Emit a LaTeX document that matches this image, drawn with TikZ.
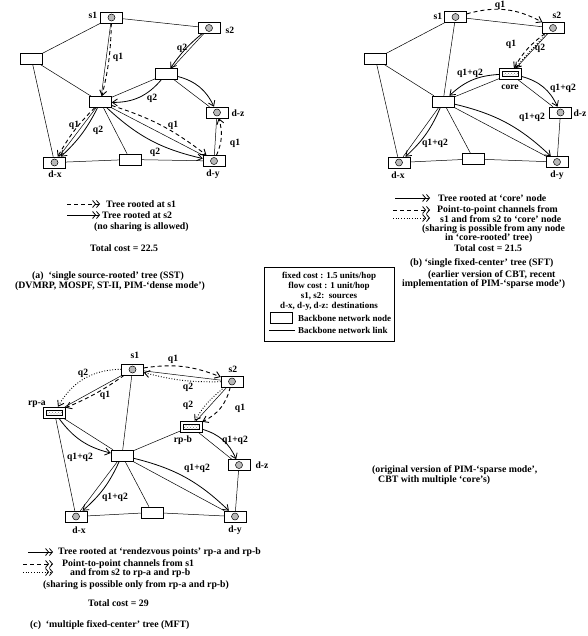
\documentclass[tikz,border=0pt]{standalone}
\usepackage{fontspec}
\setmainfont{Liberation Serif}
\usetikzlibrary{arrows.meta,patterns,calc}
\begin{document}
\begin{tikzpicture}[x=1pt,y=-1pt,
  every node/.style={inner sep=0pt},
  lab/.style={font=\fontsize{9.6}{11}\selectfont\bfseries},
  txt/.style={font=\fontsize{9.8}{11}\selectfont\bfseries, anchor=west},
  ctxt/.style={font=\fontsize{9.8}{11}\selectfont\bfseries},
  ltxt/.style={font=\fontsize{9}{10}\selectfont\bfseries},
  nbox/.style={draw, fill=white, minimum width=22pt, minimum height=11pt, line width=0.5pt},
  lnk/.style={line width=0.5pt},
  tree/.style={line width=0.8pt, -{Straight Barb[length=5pt,width=7pt]}},
  dsh/.style={line width=0.9pt, dash pattern=on 4pt off 3pt, -{Straight Barb[length=5pt,width=7pt]}},
  dot/.style={line width=0.9pt, dash pattern=on 0.9pt off 1.8pt, -{Straight Barb[length=5pt,width=7pt]}},
  dtip/.style={-{Straight Barb[length=3pt,width=7pt] Straight Barb[length=3pt,width=7pt]}},
]
\fill[white] (0,0) rectangle (587,636);
\useasboundingbox (0,0) rectangle (587,636);

% ================= panel (a) =================
\node[nbox] (s1a) at (111.5,17.5) {};
\node[nbox] (s2a) at (209,28) {};
\node[nbox] (La) at (31.5,59) {};
\node[nbox] (Ma) at (166.5,74) {};
\node[nbox] (Ca) at (100.5,102) {};
\node[nbox] (dza) at (217,112.5) {};
\node[nbox] (dxa) at (54.5,162.5) {};
\node[nbox] (Ba) at (130,159.5) {};
\node[nbox] (dya) at (214,161) {};
\foreach \p/\q in {s1a/s2a,s1a/La,s1a/Ca,La/Ca,La/dxa,s2a/Ma,Ma/Ca,Ma/dza,Ca/dxa,Ca/Ba,Ca/dya,dxa/Ba,Ba/dya,dza/dya}
  \draw[lnk] (\p) -- (\q);
\draw[dsh] (s1a) to[bend left=6] (Ca);
\draw[tree] (s2a) to[bend right=8] (Ma);
\draw[tree] (Ma) to[bend left=25] (Ca);
\draw[tree] (Ma) to[bend left=25] (dza);
\draw[dsh] (Ca) to[bend right=8] (dxa);
\draw[tree] (Ca) to[bend left=10] (dxa);
\draw[dsh] (Ca) to[bend left=10] (dya);
\draw[tree] (Ca) to[bend right=15] (dya);
\draw[dsh] (dya) to[bend right=20] (dza);
\node[lab] (ta1) at (93,15) {s1};
\node[lab] (ta2) at (230,30) {s2};
\node[lab] (ta3) at (238,113) {d-z};
\node[lab] (ta4) at (55,174) {d-x};
\node[lab] (ta5) at (213,174) {d-y};
\node[lab] (qa1) at (118,57) {q1};
\node[lab] (qa2) at (182,48) {q2};
\node[lab] (qa3) at (152,98) {q2};
\node[lab] (qa4) at (74,125) {q1};
\node[lab] (qa5) at (98,130) {q2};
\node[lab] (qa6) at (173,125) {q1};
\node[lab] (qa7) at (155,152) {q2};
\node[lab] (qa8) at (235,143) {q1};

% legend (a)
\coordinate (la1s) at (67,204); \coordinate (la1e) at (100,204);
\coordinate (la2s) at (67,215); \coordinate (la2e) at (100,215);
\draw[line width=0.8pt, dash pattern=on 4pt off 3pt, dtip] (la1s) -- (la1e);
\draw[line width=0.8pt, dtip] (la2s) -- (la2e);
\node[txt] (lat1) at (106,204) {Tree rooted at s1};
\node[txt] (lat2) at (102,215) {Tree rooted at s2};
\node[txt] (lat3) at (94,227) {(no sharing is allowed)};
\node[txt] (lat4) at (90,248) {Total cost = 22.5};
\node[ctxt] (lat5) at (108,276) {(a)\ \ `single source-rooted' tree (SST)};
\node[ctxt] (lat6) at (110,286) {(DVMRP, MOSPF, ST-II, PIM-`dense mode')};

% ================= panel (b) =================
\node[nbox] (s1b) at (455.5,17) {};
\node[nbox] (s2b) at (553,28) {};
\node[nbox] (Lb) at (375.5,59) {};
\node[nbox] (coreb) at (510.5,74) {};
\node[nbox] (Cb) at (443,101.5) {};
\node[nbox] (dzb) at (560.5,112.5) {};
\node[nbox] (dxb) at (399,162.5) {};
\node[nbox] (Bb) at (473.5,159) {};
\node[nbox] (dyb) at (557,162) {};
\foreach \p/\q in {s1b/s2b,s1b/Lb,s1b/Cb,Lb/Cb,Lb/dxb,s2b/coreb,coreb/Cb,coreb/dzb,Cb/dxb,Cb/Bb,Cb/dyb,dxb/Bb,Bb/dyb,dzb/dyb}
  \draw[lnk] (\p) -- (\q);
\draw[dsh] (s1b) to[bend left=22] (s2b);
\draw[dsh] (s2b) to[bend right=12] (coreb);
\draw[dot] (s2b) to[bend right=3] (coreb);
\draw[tree] (coreb) to[bend right=20] (Cb);
\draw[tree] (coreb) to[bend left=25] (dzb);
\draw[tree] (Cb) to[bend left=12] (dxb);
\draw[tree] (Cb) to[bend left=15] (dyb);
\node[lab] (tb1) at (438,16) {s1};
\node[lab] (tb2) at (557,15) {s2};
\node[lab] (tb3) at (510,87) {core};
\node[lab, anchor=east] (tb4) at (586.5,113) {d-z};
\node[lab] (tb5) at (398,175) {d-x};
\node[lab] (tb6) at (557,175) {d-y};
\node[lab] (qb1) at (500,5) {q1};
\node[lab] (qb2) at (511,44) {q1};
\node[lab] (qb3) at (540,48) {q2};
\node[lab] (qb4) at (470,73) {q1+q2};
\node[lab] (qb5) at (563,88) {q1+q2};
\node[lab] (qb6) at (532,117) {q1+q2};
\node[lab] (qb7) at (435,143) {q1+q2};

% legend (b)
\coordinate (lb1s) at (395,198); \coordinate (lb1e) at (430,198);
\coordinate (lb2s) at (393,210); \coordinate (lb2e) at (430,210);
\coordinate (lb3s) at (393,218); \coordinate (lb3e) at (430,218);
\draw[line width=0.8pt, dtip] (lb1s) -- (lb1e);
\draw[line width=0.8pt, dash pattern=on 4pt off 3pt, dtip] (lb2s) -- (lb2e);
\draw[line width=0.8pt, dash pattern=on 0.9pt off 1.8pt, dtip] (lb3s) -- (lb3e);
\node[txt] (lbt1) at (438,198) {Tree rooted at `core' node};
\node[txt] (lbt2) at (437,210) {Point-to-point channels from};
\node[txt] (lbt3) at (440,219) {s1 and from s2 to `core' node};
\node[txt] (lbt4) at (422,229) {(sharing is possible from any node};
\node[txt] (lbt5) at (445,238) {in `core-rooted' tree)};
\node[txt] (lbt6) at (454,248) {Total cost = 21.5};
\node[txt] (lbt7) at (410,263) {(b) `single fixed-center' tree (SFT)};
\node[txt] (lbt8) at (428,275) {(earlier version of CBT, recent};
\node[txt] (lbt9) at (402,284) {implementation of PIM-`sparse mode')};

% ================= legend box =================
\draw[line width=0.6pt] (264,267) rectangle (394,341);
\node[ltxt] (lg1) at (329,276) {fixed cost : 1.5 units/hop};
\node[ltxt] (lg2) at (329,286) {flow cost : 1 unit/hop};
\node[ltxt] (lg3) at (329,296) {s1, s2:\ \ sources};
\node[ltxt] (lg4) at (329,306) {d-x, d-y, d-z: destinations};
\node[nbox] (lgbox) at (281,318) {};
\node[ltxt, anchor=west] (lg5) at (298,318) {Backbone network node};
\coordinate (lgl1) at (269,330); \coordinate (lgl2) at (295,330);
\draw[lnk] (lgl1) -- (lgl2);
\node[ltxt, anchor=west] (lg6) at (298,330) {Backbone network link};

% ================= panel (c) =================
\node[nbox] (s1c) at (132.5,369.5) {};
\node[nbox] (s2c) at (232,381.5) {};
\node[nbox] (rpa) at (54.5,412.5) {};
\node[nbox] (rpb) at (191,426.5) {};
\node[nbox] (Cc) at (122,455.5) {};
\node[nbox] (dzc) at (239,465) {};
\node[nbox] (dxc) at (76,516.5) {};
\node[nbox] (Bc) at (152,512.5) {};
\node[nbox] (dyc) at (235,516.5) {};
\foreach \p/\q in {s1c/s2c,s1c/rpa,s1c/Cc,rpa/Cc,rpa/dxc,s2c/rpb,rpb/Cc,rpb/dzc,Cc/dxc,Cc/Bc,Cc/dyc,dxc/Bc,Bc/dyc,dzc/dyc}
  \draw[lnk] (\p) -- (\q);
\draw[dsh] (s1c) to[bend left=15] (s2c);
\draw[dot] (s2c) to[bend left=8] (s1c);
\draw[dot] (s1c) to[bend right=30] (rpa);
\draw[dsh] (s1c) to[bend left=6] (rpa);
\draw[dot] (s2c) to[bend right=10] (rpb);
\draw[dsh] (s2c) to[bend left=25] (rpb);
\draw[tree] (rpa) to[bend right=20] (Cc);
\draw[tree] (rpb) to[bend left=25] (dzc);
\draw[tree] (Cc) to[bend left=12] (dxc);
\draw[tree] (Cc) to[bend left=15] (dyc);
\node[lab] (tc1) at (135,355) {s1};
\node[lab] (tc2) at (233,369) {s2};
\node[lab] (tc3) at (37,404) {rp-a};
\node[lab] (tc4) at (183,440) {rp-b};
\node[lab] (tc5) at (262,465) {d-z};
\node[lab] (tc6) at (79,530) {d-x};
\node[lab] (tc7) at (235,530) {d-y};
\node[lab] (qc1) at (173,359) {q1};
\node[lab] (qc2) at (188,387) {q2};
\node[lab] (qc3) at (83,373) {q2};
\node[lab] (qc4) at (105,395) {q1};
\node[lab] (qc5) at (188,405) {q2};
\node[lab] (qc6) at (240,408) {q1};
\node[lab] (qc7) at (80,457) {q1+q2};
\node[lab] (qc8) at (235,440) {q1+q2};
\node[lab] (qc9) at (115,497) {q1+q2};
\node[lab] (qc10) at (197,468) {q1+q2};

% hatched centre boxes
\foreach \n in {coreb,rpa,rpb}{
  \fill[pattern=crosshatch dots, pattern color=gray] ($(\n)+(-8,-2.5)$) rectangle ($(\n)+(8,2.5)$);
  \draw[line width=0.4pt] ($(\n)+(-8,-2.5)$) rectangle ($(\n)+(8,2.5)$);
}
% end-host circles
\foreach \n in {s1a,s2a,dza,dxa,dya,s1b,s2b,dzb,dxb,dyb,s1c,s2c,dzc,dxc,dyc}
  \draw[fill=gray!55, line width=0.5pt] (\n) circle[radius=3.5pt];

% side note (c)
\node[txt] (cn1) at (372,470) {(original version of PIM-`sparse mode',};
\node[txt] (cn2) at (378,480) {CBT with multiple `core's)};

% legend (c)
\coordinate (lc1s) at (28,552); \coordinate (lc1e) at (53,552);
\coordinate (lc2s) at (23,564); \coordinate (lc2e) at (53,564);
\coordinate (lc3s) at (23,572); \coordinate (lc3e) at (53,572);
\draw[line width=0.8pt, dtip] (lc1s) -- (lc1e);
\draw[line width=0.8pt, dash pattern=on 4pt off 3pt, dtip] (lc2s) -- (lc2e);
\draw[line width=0.8pt, dash pattern=on 0.9pt off 1.8pt, dtip] (lc3s) -- (lc3e);
\node[txt] (lct1) at (58,552) {Tree rooted at `rendezvous points' rp-a and rp-b};
\node[txt] (lct2) at (62,564) {Point-to-point channels from s1};
\node[txt] (lct3) at (70,573) {and from s2 to rp-a and rp-b};
\node[txt] (lct4) at (43,585) {(sharing is possible only from rp-a and rp-b)};
\node[txt] (lct5) at (88,603) {Total cost = 29};
\node[txt] (lct6) at (30,625) {(c)\ \ `multiple fixed-center' tree (MFT)};
\end{tikzpicture}
\end{document}
